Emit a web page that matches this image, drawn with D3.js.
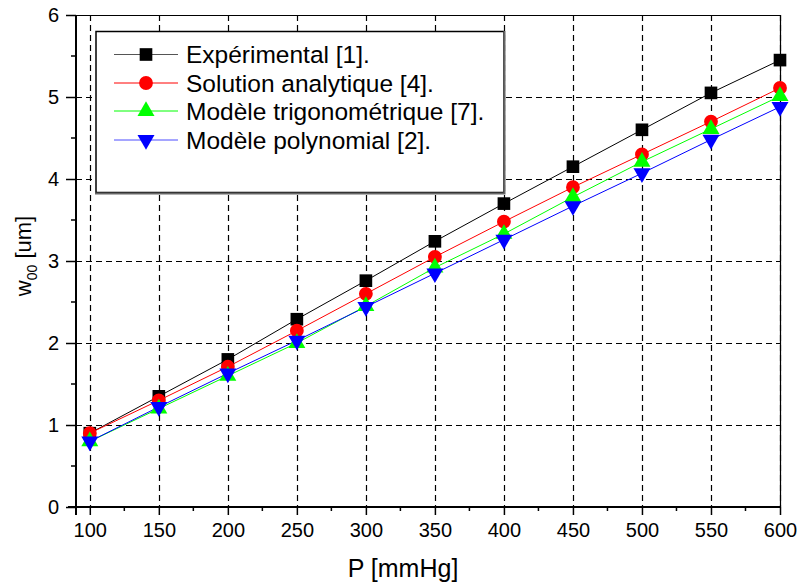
<!DOCTYPE html>
<html>
<head>
<meta charset="utf-8">
<script src="https://cdn.jsdelivr.net/npm/d3@7"></script>
<style>
  html, body { margin: 0; padding: 0; background: #fff; }
  svg { display: block; font-family: "Liberation Sans", Arial, sans-serif; }
</style>
</head>
<body>
<svg id="chart" width="798" height="585"></svg>
<script>
// Pressure values (mmHg)
const pressures = [100, 150, 200, 250, 300, 350, 400, 450, 500, 550, 600];

// Central deflection w00 (um) for each source
const experimental = [0.90, 1.35, 1.80, 2.29, 2.76, 3.24, 3.70, 4.15, 4.60, 5.05, 5.45];
const analytical   = [0.90, 1.30, 1.71, 2.15, 2.60, 3.05, 3.48, 3.90, 4.30, 4.70, 5.11];
const trigModel    = [0.80, 1.20, 1.60, 2.00, 2.45, 2.92, 3.33, 3.78, 4.21, 4.61, 5.01];
const polyModel    = [0.80, 1.22, 1.63, 2.03, 2.44, 2.85, 3.26, 3.67, 4.07, 4.48, 4.88];

const seriesNames = [
  "Expérimental [1].",
  "Solution analytique [4].",
  "Modèle trigonométrique [7].",
  "Modèle polynomial [2]."
];

const xTicks = [100, 150, 200, 250, 300, 350, 400, 450, 500, 550, 600];
const yTicks = [0, 1, 2, 3, 4, 5, 6];

const series = [
  { name: seriesNames[0], values: experimental, color: "#000000", legendLine: "#555555", marker: "square" },
  { name: seriesNames[1], values: analytical,   color: "#ff0000", legendLine: "#ff0000", marker: "circle" },
  { name: seriesNames[2], values: trigModel,    color: "#00ff00", legendLine: "#00ff00", marker: "triangleUp" },
  { name: seriesNames[3], values: polyModel,    color: "#0000ff", legendLine: "#4d4dff", marker: "triangleDown" }
];

const svg = d3.select("#chart");
const plotL = 76, plotR = 780, plotT = 15, plotB = 507;

const x = d3.scaleLinear().domain([90, 600]).range([plotL, plotR]);
const y = d3.scaleLinear().domain([0, 6]).range([plotB, plotT]);

// Dashed grid at major ticks
const grid = svg.append("g").attr("stroke", "#000").attr("stroke-width", 1.2)
  .attr("stroke-dasharray", "6,4").attr("fill", "none");
grid.selectAll("line.v").data(xTicks).join("line").attr("class", "v")
  .attr("x1", d => Math.round(x(d)) + 0.5).attr("x2", d => Math.round(x(d)) + 0.5)
  .attr("y1", plotT).attr("y2", plotB);
grid.selectAll("line.h").data(yTicks.filter(d => d > 0 && d < 6)).join("line").attr("class", "h")
  .attr("x1", plotL).attr("x2", plotR)
  .attr("y1", d => Math.round(y(d)) + 0.5).attr("y2", d => Math.round(y(d)) + 0.5);

// Frame (top and right)
svg.append("path")
  .attr("d", `M${plotL},${plotT + 0.5}H${plotR + 0.5}V${plotB}`)
  .attr("fill", "none").attr("stroke", "#000").attr("stroke-width", 1.2);

// Bottom axis with minor ticks
const xMinor = d3.range(100, 600, 50).map(d => d + 25);
const gx = svg.append("g").attr("transform", `translate(0,${plotB})`);
gx.call(d3.axisBottom(x).tickValues(xTicks).tickSize(8).tickSizeOuter(0).tickPadding(8)
  .tickFormat(d3.format("d")));
gx.append("g").selectAll("line").data(xMinor).join("line")
  .attr("x1", d => x(d)).attr("x2", d => x(d)).attr("y1", 0).attr("y2", 4)
  .attr("stroke", "#000").attr("stroke-width", 1.5);
gx.select(".domain").attr("stroke-width", 2).attr("d", `M${plotL - 8},0H${plotR}`);
gx.selectAll(".tick line").attr("stroke-width", 1.5);
gx.selectAll(".tick text").attr("font-size", 20).attr("fill", "#000")
  .attr("font-family", "Liberation Sans, Arial, sans-serif");

// Left axis with minor ticks
const yMinor = d3.range(0, 6).map(d => d + 0.5);
const gy = svg.append("g").attr("transform", `translate(${plotL},0)`);
gy.call(d3.axisLeft(y).tickValues(yTicks).tickSize(10).tickSizeOuter(0).tickPadding(7)
  .tickFormat(d3.format("d")));
gy.append("g").selectAll("line").data(yMinor).join("line")
  .attr("x1", 0).attr("x2", -5).attr("y1", d => y(d)).attr("y2", d => y(d))
  .attr("stroke", "#000").attr("stroke-width", 1.5);
gy.select(".domain").attr("stroke-width", 2).attr("d", `M0,${plotT}V${plotB + 8}`);
gy.selectAll(".tick line").attr("stroke-width", 1.5);
gy.selectAll(".tick text").attr("font-size", 20).attr("fill", "#000")
  .attr("font-family", "Liberation Sans, Arial, sans-serif");

// Marker shapes
const symbolFor = {
  square: d3.symbol().type(d3.symbolSquare).size(160),
  circle: d3.symbol().type(d3.symbolCircle).size(150),
  triangle: d3.symbol().type(d3.symbolTriangle).size(125),
};
function drawMarker(g, kind, cx, cy, color) {
  let d, rot = 0;
  if (kind === "triangleDown") { d = symbolFor.triangle(); rot = 180; }
  else if (kind === "triangleUp") { d = symbolFor.triangle(); }
  else { d = symbolFor[kind](); }
  g.append("path").attr("d", d)
    .attr("transform", `translate(${cx},${cy}) rotate(${rot})`).attr("fill", color);
}

// Series lines and markers
const line = d3.line().x((d, i) => x(pressures[i])).y(d => y(d));
series.forEach(s => {
  svg.append("path").datum(s.values).attr("d", line)
    .attr("fill", "none").attr("stroke", s.color).attr("stroke-width", 1);
});
series.forEach(s => {
  const g = svg.append("g");
  s.values.forEach((v, i) => drawMarker(g, s.marker, x(pressures[i]), y(v), s.color));
});

// Legend box
const lg = svg.append("g");
lg.append("rect").attr("x", 96).attr("y", 31.5).attr("width", 408).attr("height", 161)
  .attr("fill", "#fff").attr("stroke", "#000").attr("stroke-width", 1.5);
lg.append("path").attr("d", "M504.5,31V193.5H95")
  .attr("fill", "none").attr("stroke", "#666").attr("stroke-width", 2);
const rowY = [54.5, 83, 111, 140];
series.forEach((s, i) => {
  lg.append("line").attr("x1", 114).attr("x2", 178).attr("y1", rowY[i]).attr("y2", rowY[i])
    .attr("stroke", s.legendLine).attr("stroke-width", 1);
  drawMarker(lg, s.marker, 146, rowY[i], s.color);
  lg.append("text").attr("x", 186).attr("y", rowY[i]).attr("dy", "0.36em")
    .attr("font-size", 24.5).attr("fill", "#000").text(s.name);
});

// Axis titles
svg.append("text").attr("x", 403).attr("y", 577).attr("text-anchor", "middle")
  .attr("font-size", 25).attr("fill", "#000").text("P [mmHg]");

const yt = svg.append("text").attr("transform", "translate(31,256) rotate(-90)")
  .attr("text-anchor", "middle").attr("font-size", 22).attr("fill", "#000");
yt.append("tspan").text("w");
yt.append("tspan").attr("font-size", 14).attr("dy", 6).text("00");
yt.append("tspan").attr("dy", -6).text(" [um]");
</script>
</body>
</html>
